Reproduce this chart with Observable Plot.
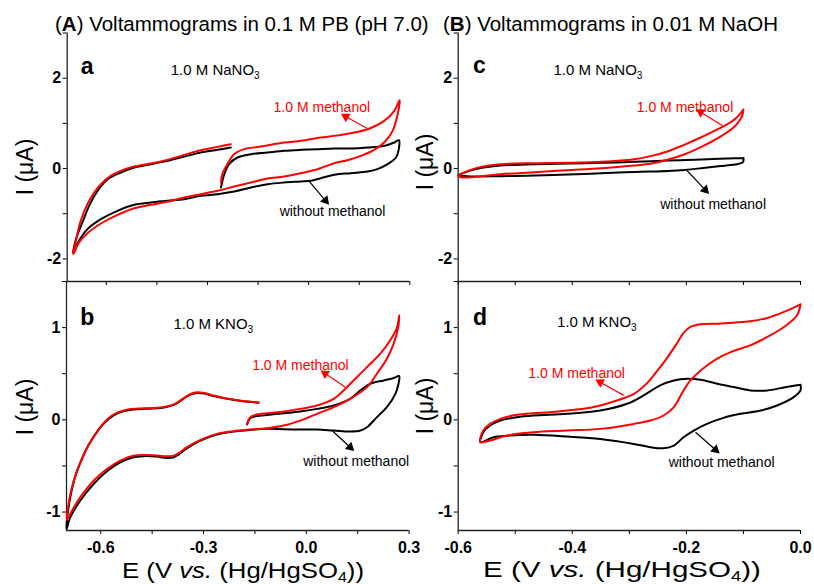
<!DOCTYPE html>
<html>
<head>
<meta charset="utf-8">
<script src="https://cdn.jsdelivr.net/npm/d3@7"></script>
<script src="https://cdn.jsdelivr.net/npm/@observablehq/plot@0.6"></script>
<style>
  body { margin: 0; background: #fff; }
  #fig { position: relative; width: 814px; height: 584px; font-family: "Liberation Sans", Arial, Helvetica, sans-serif; color: #000; }
  #fig svg { position: absolute; left: 0; top: 0; }
</style>
</head>
<body>
<div id="fig"></div>
<script>
const FONT = '"Liberation Sans", Arial, Helvetica, sans-serif';

// ---- (a) 0.1 M PB + 1.0 M NaNO3 : [E (V), I (uA)] along the scan ----
const aBlack = [
  [-0.260, -0.420], [-0.250, -0.125], [-0.236, 0.097], [-0.211, 0.244], [-0.171, 0.318], [-0.122, 0.355],
  [-0.073, 0.392], [-0.023, 0.414], [0.026, 0.429], [0.076, 0.443], [0.125, 0.443], [0.175, 0.465],
  [0.224, 0.502], [0.254, 0.576], [0.268, 0.628],
  [0.268, 0.465], [0.259, 0.244], [0.234, 0.097], [0.204, -0.014], [0.175, -0.066], [0.125, -0.102],
  [0.076, -0.139], [0.036, -0.213], [0.007, -0.272], [-0.023, -0.287], [-0.073, -0.309], [-0.122, -0.346],
  [-0.171, -0.420], [-0.221, -0.510], [-0.270, -0.567], [-0.320, -0.604], [-0.369, -0.678], [-0.419, -0.715],
  [-0.468, -0.752], [-0.517, -0.803], [-0.567, -0.936], [-0.616, -1.120], [-0.656, -1.341], [-0.681, -1.600],
  [-0.698, -1.872],
  [-0.690, -1.563], [-0.671, -1.194], [-0.651, -0.825], [-0.626, -0.493], [-0.596, -0.235], [-0.557, -0.088],
  [-0.517, 0.023], [-0.468, 0.097], [-0.419, 0.170], [-0.369, 0.266], [-0.320, 0.355], [-0.270, 0.414],
  [-0.231, 0.465]
];
const aRed = [
  [-0.260, -0.309], [-0.255, -0.103], [-0.241, 0.097], [-0.221, 0.318], [-0.191, 0.429], [-0.142, 0.487],
  [-0.073, 0.576], [-0.023, 0.613], [0.036, 0.686], [0.076, 0.723], [0.125, 0.783], [0.175, 0.871],
  [0.224, 1.055], [0.254, 1.277], [0.270, 1.513],
  [0.264, 1.203], [0.249, 0.834], [0.224, 0.576], [0.194, 0.414], [0.155, 0.281], [0.115, 0.185],
  [0.076, 0.119], [0.026, -0.014], [-0.023, -0.102], [-0.073, -0.176], [-0.122, -0.221], [-0.171, -0.309],
  [-0.221, -0.398], [-0.270, -0.493], [-0.320, -0.567], [-0.369, -0.640], [-0.419, -0.737], [-0.468, -0.803],
  [-0.517, -0.877], [-0.567, -1.025], [-0.616, -1.216], [-0.656, -1.430], [-0.681, -1.636], [-0.698, -1.894],
  [-0.690, -1.600], [-0.676, -1.157], [-0.656, -0.788], [-0.636, -0.530], [-0.616, -0.346], [-0.587, -0.162],
  [-0.557, -0.051], [-0.517, 0.045], [-0.468, 0.111], [-0.419, 0.192], [-0.369, 0.303], [-0.320, 0.406],
  [-0.270, 0.480], [-0.231, 0.539]
];

// ---- (b) 0.1 M PB + 1.0 M KNO3 ----
const bBlack = [
  [-0.173, -0.051], [-0.163, 0.021], [-0.115, 0.053], [-0.066, 0.072], [-0.018, 0.090], [0.031, 0.119],
  [0.080, 0.156], [0.128, 0.228], [0.158, 0.319], [0.187, 0.391], [0.226, 0.427], [0.255, 0.453], [0.271, 0.474],
  [0.269, 0.391], [0.260, 0.282], [0.235, 0.138], [0.206, 0.029], [0.177, -0.080], [0.158, -0.116],
  [0.128, -0.127], [0.080, -0.116], [0.031, -0.105], [-0.018, -0.105], [-0.066, -0.102], [-0.115, -0.098],
  [-0.163, -0.109], [-0.212, -0.127], [-0.261, -0.160], [-0.309, -0.225], [-0.348, -0.308], [-0.373, -0.377],
  [-0.387, -0.406], [-0.407, -0.413], [-0.436, -0.399], [-0.465, -0.391], [-0.504, -0.406], [-0.543, -0.460],
  [-0.582, -0.558], [-0.621, -0.696], [-0.660, -0.877], [-0.689, -1.058], [-0.700, -1.185],
  [-0.697, -1.030], [-0.688, -0.820], [-0.675, -0.620], [-0.658, -0.450], [-0.638, -0.290], [-0.617, -0.165],
  [-0.596, -0.060], [-0.575, 0.015], [-0.550, 0.072], [-0.520, 0.105], [-0.490, 0.116], [-0.450, 0.122],
  [-0.415, 0.134], [-0.385, 0.165], [-0.360, 0.225], [-0.338, 0.275], [-0.318, 0.292], [-0.298, 0.285],
  [-0.270, 0.258], [-0.240, 0.234], [-0.200, 0.210], [-0.170, 0.196], [-0.139, 0.186]
];
const bRed = [
  [-0.173, -0.044], [-0.163, 0.029], [-0.149, 0.053], [-0.115, 0.072], [-0.066, 0.090], [-0.018, 0.119],
  [0.031, 0.156], [0.080, 0.228], [0.109, 0.319], [0.138, 0.427], [0.177, 0.572], [0.216, 0.717],
  [0.245, 0.862], [0.265, 1.007], [0.271, 1.134],
  [0.269, 1.022], [0.255, 0.826], [0.235, 0.663], [0.206, 0.500], [0.177, 0.355], [0.128, 0.228],
  [0.080, 0.138], [0.031, 0.065], [-0.018, -0.008], [-0.066, -0.062], [-0.115, -0.091], [-0.163, -0.105],
  [-0.212, -0.123], [-0.261, -0.152], [-0.309, -0.218], [-0.348, -0.297], [-0.373, -0.362], [-0.387, -0.388],
  [-0.407, -0.395], [-0.436, -0.388], [-0.465, -0.381], [-0.504, -0.388], [-0.543, -0.442], [-0.582, -0.533],
  [-0.621, -0.660], [-0.660, -0.841], [-0.684, -0.986], [-0.699, -1.087],
  [-0.696, -0.960], [-0.686, -0.760], [-0.672, -0.580], [-0.655, -0.420], [-0.635, -0.270], [-0.615, -0.150],
  [-0.595, -0.050], [-0.575, 0.025], [-0.550, 0.080], [-0.520, 0.112], [-0.490, 0.122], [-0.450, 0.128],
  [-0.415, 0.140], [-0.385, 0.170], [-0.360, 0.230], [-0.338, 0.280], [-0.318, 0.300], [-0.298, 0.290],
  [-0.270, 0.262], [-0.240, 0.236], [-0.200, 0.212], [-0.170, 0.198], [-0.139, 0.188]
];

// ---- (c) 0.01 M NaOH + 1.0 M NaNO3 ----
const cBlack = [
  [-0.100, 0.236], [-0.174, 0.199], [-0.232, 0.177], [-0.291, 0.148], [-0.349, 0.126], [-0.408, 0.111],
  [-0.466, 0.096], [-0.526, 0.066], [-0.567, -0.007], [-0.592, -0.103], [-0.600, -0.150],
  [-0.585, -0.170], [-0.526, -0.170], [-0.466, -0.155], [-0.408, -0.133], [-0.349, -0.103], [-0.291, -0.074],
  [-0.232, -0.052], [-0.203, -0.030], [-0.174, 0.007], [-0.144, 0.052], [-0.115, 0.089], [-0.101, 0.140],
  [-0.100, 0.236]
];
const cRed = [
  [-0.100, 1.305], [-0.115, 1.093], [-0.144, 0.876], [-0.174, 0.692], [-0.203, 0.530], [-0.232, 0.383],
  [-0.261, 0.280], [-0.291, 0.207], [-0.349, 0.148], [-0.408, 0.126], [-0.466, 0.118], [-0.526, 0.096],
  [-0.567, 0.015], [-0.592, -0.100], [-0.600, -0.170],
  [-0.585, -0.200], [-0.556, -0.163], [-0.526, -0.126], [-0.466, -0.081], [-0.408, -0.037], [-0.349, 0.007],
  [-0.291, 0.066], [-0.261, 0.111], [-0.232, 0.199], [-0.203, 0.317], [-0.174, 0.479], [-0.144, 0.678],
  [-0.115, 0.937], [-0.103, 1.143], [-0.100, 1.305]
];

// ---- (d) 0.01 M NaOH + 1.0 M KNO3 ----
const dBlack = [
  [0.000, 0.380], [-0.029, 0.351], [-0.058, 0.319], [-0.088, 0.319], [-0.117, 0.355], [-0.146, 0.391],
  [-0.175, 0.434], [-0.198, 0.445], [-0.222, 0.427], [-0.246, 0.373], [-0.275, 0.264], [-0.304, 0.174],
  [-0.351, 0.101], [-0.409, 0.065], [-0.468, 0.047], [-0.497, 0.029], [-0.526, -0.008], [-0.544, -0.062],
  [-0.556, -0.134], [-0.561, -0.243],
  [-0.538, -0.189], [-0.509, -0.170], [-0.468, -0.163], [-0.409, -0.181], [-0.351, -0.207], [-0.292, -0.261],
  [-0.263, -0.297], [-0.240, -0.308], [-0.222, -0.279], [-0.205, -0.189], [-0.187, -0.116], [-0.164, -0.044],
  [-0.135, 0.021], [-0.105, 0.065], [-0.070, 0.101], [-0.041, 0.156], [-0.012, 0.246], [0.000, 0.319],
  [0.000, 0.380]
];
const dRed = [
  [0.000, 1.253], [-0.029, 1.170], [-0.058, 1.105], [-0.088, 1.068], [-0.117, 1.054], [-0.146, 1.043],
  [-0.175, 1.036], [-0.193, 1.007], [-0.205, 0.943], [-0.216, 0.836], [-0.234, 0.670], [-0.252, 0.525],
  [-0.269, 0.398], [-0.292, 0.282], [-0.322, 0.210], [-0.351, 0.156], [-0.380, 0.119], [-0.409, 0.101],
  [-0.439, 0.083], [-0.468, 0.072], [-0.497, 0.054], [-0.526, 0.011], [-0.544, -0.044], [-0.556, -0.116],
  [-0.561, -0.240],
  [-0.544, -0.225], [-0.526, -0.189], [-0.497, -0.152], [-0.468, -0.134], [-0.409, -0.116], [-0.351, -0.098],
  [-0.292, -0.044], [-0.263, -0.008], [-0.240, 0.047], [-0.222, 0.138], [-0.205, 0.319], [-0.193, 0.427],
  [-0.175, 0.536], [-0.146, 0.663], [-0.117, 0.747], [-0.088, 0.808], [-0.058, 0.899], [-0.029, 1.007],
  [-0.006, 1.134], [0.000, 1.253]
];

// ---- axis ticks and labels ----
const leftXTicks = [-0.6, -0.45, -0.3, -0.15, 0, 0.15, 0.3];
const leftXLabels = [-0.6, -0.3, 0, 0.3];
const rightXTicks = [-0.6, -0.5, -0.4, -0.3, -0.2, -0.1, 0];
const rightXLabels = [-0.6, -0.4, -0.2, 0];
const topYTicks = [-2, -1, 0, 1, 2, 3];
const topYLabels = [-2, 0, 2];
const bottomYTicks = [-1, -0.5, 0, 0.5, 1, 1.5];
const bottomYLabels = [-1, 0, 1];

// ---- annotation text ----
const panelLetters = ["a", "b", "c", "d"];
const saltLabels = ["1.0 M NaNO3", "1.0 M KNO3"];
const seriesLabels = ["1.0 M methanol", "without methanol"];

const RED = "#ff0000", BLACK = "#000000";

function panel(p) {
  const [px0, px1] = p.xRange;   // pixel left, right
  const [py0, py1] = p.yRange;   // pixel bottom, top
  const kx = (px1 - px0) / (p.xDomain[1] - p.xDomain[0]);
  const ky = (py0 - py1) / (p.yDomain[1] - p.yDomain[0]);
  const arrow = (a, color) => ({
    x1: a[0], y1: a[1], x2: a[2], y2: a[3], stroke: color,
    // heading of the arrow on screen, clockwise from straight up
    angle: Math.atan2((a[2] - a[0]) * kx, (a[3] - a[1]) * ky) * 180 / Math.PI
  });
  const arrows = [arrow(p.redArrow, RED), arrow(p.blackArrow, BLACK)];
  const notes = [
    {x: p.redText[0], y: p.redText[1], text: seriesLabels[0], fill: RED},
    {x: p.blackText[0], y: p.blackText[1], text: seriesLabels[1], fill: BLACK}
  ];
  const svg = Plot.plot({
    width: 814,
    height: 584,
    marginLeft: px0,
    marginRight: 814 - px1,
    marginTop: py1,
    marginBottom: 584 - py0,
    style: {background: "transparent", overflow: "visible", fontFamily: FONT, fontSize: "16px", fontWeight: "bold", color: "#000"},
    x: {domain: p.xDomain, ticks: p.xTicks, tickSize: 4, tickPadding: 7, label: null,
        tickFormat: d => p.xLabels.includes(d) ? d.toFixed(1) : ""},
    y: {domain: p.yDomain, ticks: p.yTicks, tickSize: 4, tickPadding: 2, label: null,
        tickFormat: d => p.yLabels.includes(d) ? String(d) : ""},
    marks: [
      Plot.ruleX([p.xDomain[0]], {stroke: "#222", strokeWidth: 1.3}),
      Plot.ruleY([p.yDomain[0]], {stroke: "#222", strokeWidth: 1.3}),
      Plot.line(p.black, {x: d => d[0], y: d => d[1], stroke: BLACK, strokeWidth: 2, curve: "catmull-rom"}),
      Plot.line(p.red, {x: d => d[0], y: d => d[1], stroke: RED, strokeWidth: 2, curve: "catmull-rom"}),
      Plot.link(arrows, {x1: "x1", y1: "y1", x2: "x2", y2: "y2", stroke: "stroke", strokeWidth: 1.2}),
      Plot.dot(arrows, {x: "x2", y: "y2", symbol: "triangle", r: 3.6, rotate: "angle", fill: "stroke", stroke: "none"}),
      Plot.text([p.saltText], {x: p.salt[0], y: p.salt[1], text: d => d, fill: BLACK, fontSize: 15, fontWeight: "normal",
                               textAnchor: "start", lineAnchor: "bottom"}),
      Plot.text(notes, {x: "x", y: "y", text: "text", fill: "fill", fontSize: 14, fontWeight: "normal",
                        textAnchor: "start", lineAnchor: "bottom"}),
      Plot.text([p.letter], {x: p.letterAt[0], y: p.letterAt[1], text: d => d, fontSize: 23, fontWeight: "bold",
                             textAnchor: "start", lineAnchor: "bottom"})
    ]
  });
  // chemical formula subscripts
  svg.querySelectorAll("text").forEach(t => {
    if (t.children.length === 0 && /NO3$/.test(t.textContent)) {
      const s = t.textContent;
      t.textContent = s.slice(0, -1);
      const sub = document.createElementNS("http://www.w3.org/2000/svg", "tspan");
      sub.setAttribute("dy", "4");
      sub.setAttribute("font-size", "10");
      sub.textContent = "3";
      t.appendChild(sub);
    }
  });
  return svg;
}

const fig = document.getElementById("fig");

fig.appendChild(panel({
  letter: panelLetters[0], letterAt: [-0.676, 2.10],
  xDomain: [-0.716, 0.3], xRange: [66.7, 409.3], xTicks: leftXTicks, xLabels: [],
  yDomain: [-2.5, 3], yRange: [281, 32.5], yTicks: topYTicks, yLabels: topYLabels,
  black: aBlack, red: aRed,
  saltText: saltLabels[0], salt: [-0.409, 2.08],
  redText: [-0.104, 1.246], blackText: [-0.086, -1.04],
  redArrow: [0.174, 0.885, 0.110, 1.151], blackArrow: [0.0, -0.266, 0.050, -0.708]
}));

fig.appendChild(panel({
  letter: panelLetters[1], letterAt: [-0.660, 1.03],
  xDomain: [-0.7, 0.3], xRange: [66, 408.6], xTicks: leftXTicks, xLabels: leftXLabels,
  yDomain: [-1.2, 1.5], yRange: [530, 281], yTicks: bottomYTicks, yLabels: bottomYLabels,
  black: bBlack, red: bRed,
  saltText: saltLabels[1], salt: [-0.388, 0.99],
  redText: [-0.158, 0.535], blackText: [-0.009, -0.497],
  redArrow: [0.114, 0.354, 0.055, 0.502], blackArrow: [0.075, -0.116, 0.128, -0.297]
}));

fig.appendChild(panel({
  letter: panelLetters[2], letterAt: [-0.574, 2.12],
  xDomain: [-0.6, 0], xRange: [457.7, 800], xTicks: rightXTicks, xLabels: [],
  yDomain: [-2.5, 3], yRange: [281, 32.5], yTicks: topYTicks, yLabels: topYLabels,
  black: cBlack, red: cRed,
  saltText: saltLabels[0], salt: [-0.433, 2.08],
  redText: [-0.287, 1.26], blackText: [-0.246, -0.892],
  redArrow: [-0.137, 0.952, -0.175, 1.246], blackArrow: [-0.199, -0.044, -0.167, -0.472]
}));

fig.appendChild(panel({
  letter: panelLetters[3], letterAt: [-0.574, 1.03],
  xDomain: [-0.6, 0], xRange: [457.7, 800], xTicks: rightXTicks, xLabels: rightXLabels,
  yDomain: [-1.2, 1.5], yRange: [530, 281], yTicks: bottomYTicks, yLabels: bottomYLabels,
  black: dBlack, red: dRed,
  saltText: saltLabels[1], salt: [-0.427, 1.004],
  redText: [-0.477, 0.451], blackText: [-0.231, -0.514],
  redArrow: [-0.310, 0.265, -0.351, 0.408], blackArrow: [-0.184, -0.134, -0.149, -0.325]
}));

// column titles and axis titles
const xTitle = 'E (V <tspan font-style="italic">vs.</tspan> (Hg/HgSO<tspan font-size="14" dy="4">4</tspan><tspan dy="-4">))</tspan>';
const yTitle = "I (\u03bcA)";
fig.insertAdjacentHTML("beforeend", `
<svg width="814" height="584" viewBox="0 0 814 584" font-family='${FONT}' fill="#000">
  <text x="55" y="31" font-size="20.5">(<tspan font-weight="bold">A</tspan>) Voltammograms in 0.1 M PB (pH 7.0)</text>
  <text x="443" y="31" font-size="20.5">(<tspan font-weight="bold">B</tspan>) Voltammograms in 0.01 M NaOH</text>
  <text x="122" y="578" font-size="22.5" textLength="242" lengthAdjust="spacingAndGlyphs">${xTitle}</text>
  <text x="483" y="577" font-size="22.5" textLength="278" lengthAdjust="spacingAndGlyphs">${xTitle}</text>
  <text transform="translate(25,167) rotate(-90)" text-anchor="middle" dy="0.35em" font-size="23">${yTitle}</text>
  <text transform="translate(25,407) rotate(-90)" text-anchor="middle" dy="0.35em" font-size="23">${yTitle}</text>
  <text transform="translate(425,162) rotate(-90)" text-anchor="middle" dy="0.35em" font-size="23">${yTitle}</text>
  <text transform="translate(425,406) rotate(-90)" text-anchor="middle" dy="0.35em" font-size="23">${yTitle}</text>
</svg>`);
</script>
</body>
</html>
